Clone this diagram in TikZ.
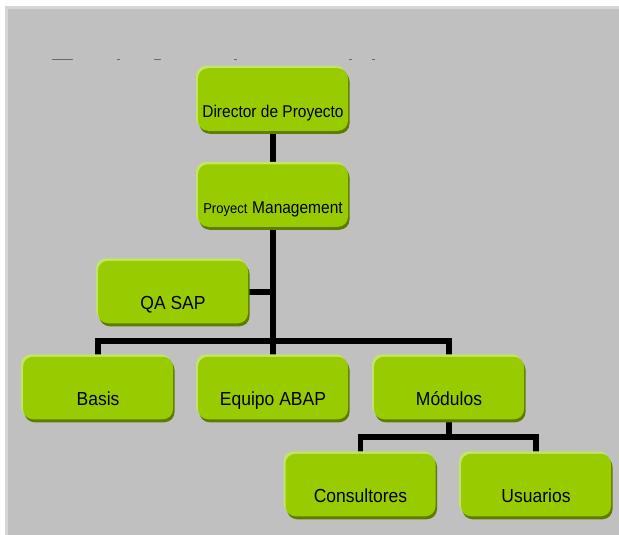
\documentclass[tikz,border=0pt]{standalone}
\usepackage{fontspec}
\setmainfont{Liberation Sans}
\usetikzlibrary{backgrounds}
\definecolor{bggray}{HTML}{C0C0C0}
\definecolor{bgedge}{HTML}{D6D6D6}
\definecolor{boxgreen}{HTML}{99CC00}
\definecolor{boxhi}{HTML}{C2E46A}
\definecolor{boxsh}{HTML}{5E7C00}
\definecolor{dashc}{HTML}{6A6A6A}
\tikzset{
  orgbox/.style={rounded corners=10pt, fill=boxgreen, inner sep=0pt,
    minimum width=150pt, text height=49pt, text depth=13.5pt,
    align=center, font=\fontsize{17.5}{20}\selectfont, text=black,
    preaction={fill=boxsh, transform canvas={shift={(1.5pt,-3pt)}}},
    preaction={fill=boxhi, transform canvas={shift={(-2pt,2.5pt)}}}},
  conn/.style={line width=5.5pt, draw=black},
  frag/.style={line width=1.2pt, draw=dashc}
}
\begin{document}
\begin{tikzpicture}[x=1pt, y=-1pt]
\useasboundingbox (0,0) rectangle (619,535);
% boxes
\node[orgbox, font=\fontsize{15.5}{18}\selectfont] (dir) at (273,99.5) {\scalebox{1}[1.1]{Director de Proyecto}};
\node[orgbox] (pm) at (273,195.5) {\scalebox{1}[1.1]{{\fontsize{13}{15}\selectfont Proyect} {\fontsize{15.5}{18}\selectfont Management}}};
\node[orgbox] (qa) at (173,292) {\scalebox{1}[1.08]{QA SAP}};
\node[orgbox] (bas) at (98,388) {\scalebox{1}[1.08]{Basis}};
\node[orgbox] (abap) at (273,388) {\scalebox{1}[1.08]{Equipo ABAP}};
\node[orgbox] (mod) at (449,388) {\scalebox{1}[1.08]{Módulos}};
\node[orgbox] (con) at (360.5,485) {\scalebox{1}[1.08]{Consultores}};
\node[orgbox] (usu) at (536,485) {\scalebox{1}[1.08]{Usuarios}};
\coordinate (bar) at (273,341);
\coordinate (bar2) at (449,437);
\begin{pgfonlayer}{background}
  \fill[white] (0,0) rectangle (619,535);
  \fill[bgedge] (5,6) rectangle (625,545);
  \fill[bggray] (8,9) rectangle (625,545);
  % clipped title fragments
  \draw[frag] (52,59.5) -- (73,59.5);
  \draw[frag] (117,59.5) -- (120,59.5);
  \draw[frag] (154,59.5) -- (161,59.5);
  \draw[frag] (234,59.5) -- (237,59.5);
  \draw[frag] (349,59.5) -- (352,59.5);
  \draw[frag] (372,59.5) -- (375,59.5);
  % connectors
  \draw[conn] (dir.south) -- (pm.north);
  \draw[conn] (pm.south) -- (bar);
  \draw[conn] (qa.east) -- (qa.east -| bar);
  \draw[conn] (bas.north) |- (bar) -| (mod.north);
  \draw[conn] (bar) -- (abap.north);
  \draw[conn] (mod.south) -- (bar2);
  \draw[conn] (con.north) |- (bar2) -| (usu.north);
\end{pgfonlayer}
\end{tikzpicture}
\end{document}
